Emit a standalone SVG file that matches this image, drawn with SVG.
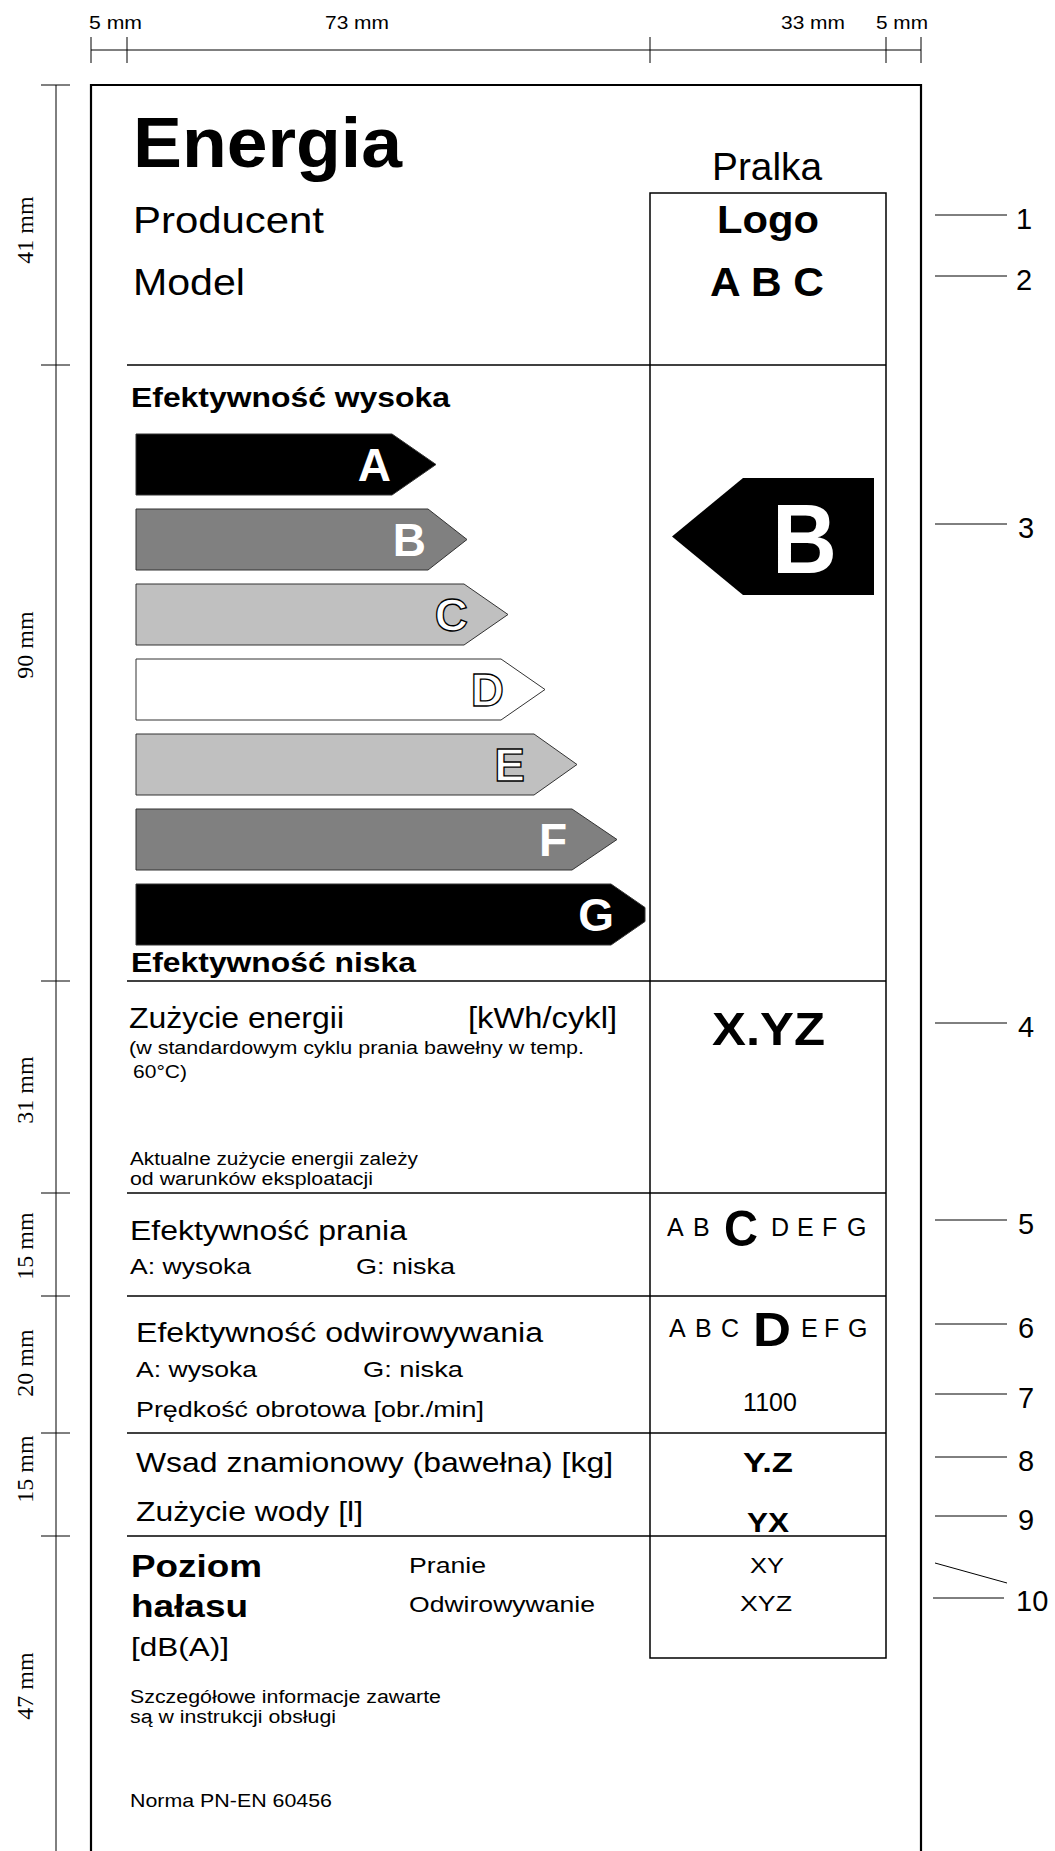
<svg xmlns="http://www.w3.org/2000/svg" width="1055" height="1851" viewBox="0 0 1055 1851">
<style>
text{font-family:"Liberation Sans",Arial,sans-serif;fill:#000}
.b{font-weight:bold}
.dim{font-size:19px}
.vdim{font-family:"Liberation Serif","Times New Roman",serif;font-size:24px}
.num{font-size:29px}
.frame{fill:none;stroke:#000;stroke-width:2.2}
.ln{stroke:#000;stroke-width:1.5;fill:none}
.thin{stroke:#000;stroke-width:1;fill:none}
.arr{stroke:#333;stroke-width:1}
.wl{fill:#fff;font-weight:bold;font-size:46px}
.ol{fill:#fff;stroke:#000;stroke-width:1.3;font-weight:bold;font-size:46px}
.mid{text-anchor:middle}
.end{text-anchor:end}
</style>
<rect x="0" y="0" width="1055" height="1851" fill="#fff"/>

<g id="dimensions">
<line class="thin" x1="91" y1="50" x2="921" y2="50"/>
<line class="thin" x1="91" y1="37" x2="91" y2="63"/>
<line class="thin" x1="127" y1="37" x2="127" y2="63"/>
<line class="thin" x1="650" y1="37" x2="650" y2="63"/>
<line class="thin" x1="886" y1="37" x2="886" y2="63"/>
<line class="thin" x1="921" y1="37" x2="921" y2="63"/>
<text class="dim" x="89" y="29" textLength="53" lengthAdjust="spacingAndGlyphs">5 mm</text>
<text class="dim" x="325" y="29" textLength="64" lengthAdjust="spacingAndGlyphs">73 mm</text>
<text class="dim" x="781" y="29" textLength="64" lengthAdjust="spacingAndGlyphs">33 mm</text>
<text class="dim" x="876" y="29" textLength="52" lengthAdjust="spacingAndGlyphs">5 mm</text>
<line class="thin" x1="56" y1="85" x2="56" y2="1851"/>
<line class="thin" x1="41" y1="85" x2="70" y2="85"/>
<line class="thin" x1="41" y1="365" x2="70" y2="365"/>
<line class="thin" x1="41" y1="981" x2="70" y2="981"/>
<line class="thin" x1="41" y1="1193" x2="70" y2="1193"/>
<line class="thin" x1="41" y1="1296" x2="70" y2="1296"/>
<line class="thin" x1="41" y1="1433" x2="70" y2="1433"/>
<line class="thin" x1="41" y1="1536" x2="70" y2="1536"/>
<text class="vdim mid" transform="translate(33,230) rotate(-90)">41 mm</text>
<text class="vdim mid" transform="translate(33,645) rotate(-90)">90 mm</text>
<text class="vdim mid" transform="translate(33,1090) rotate(-90)">31 mm</text>
<text class="vdim mid" transform="translate(33,1246) rotate(-90)">15 mm</text>
<text class="vdim mid" transform="translate(33,1363) rotate(-90)">20 mm</text>
<text class="vdim mid" transform="translate(33,1469) rotate(-90)">15 mm</text>
<text class="vdim mid" transform="translate(33,1686) rotate(-90)">47 mm</text>
</g>

<g id="label-frame">
<path class="frame" d="M91,1852 V85 H921 V1852"/>
<path class="ln" d="M650,193 H886 V1658 H650 Z"/>
<line class="ln" x1="127" y1="365" x2="886" y2="365"/>
<line class="ln" x1="127" y1="981" x2="886" y2="981"/>
<line class="ln" x1="127" y1="1193" x2="886" y2="1193"/>
<line class="ln" x1="127" y1="1296" x2="886" y2="1296"/>
<line class="ln" x1="127" y1="1433" x2="886" y2="1433"/>
<line class="ln" x1="127" y1="1536" x2="886" y2="1536"/>
</g>

<g id="header">
<text class="b" x="133" y="167" font-size="70" textLength="269" lengthAdjust="spacingAndGlyphs">Energia</text>
<text x="712" y="180" font-size="38" textLength="110" lengthAdjust="spacingAndGlyphs">Pralka</text>
<text x="133" y="233" font-size="37" textLength="191" lengthAdjust="spacingAndGlyphs">Producent</text>
<text x="133" y="295" font-size="37" textLength="112" lengthAdjust="spacingAndGlyphs">Model</text>
<text class="b" x="717" y="233" font-size="39" textLength="102" lengthAdjust="spacingAndGlyphs">Logo</text>
<text class="b" x="710" y="296" font-size="40" textLength="114" lengthAdjust="spacingAndGlyphs">A B C</text>
</g>

<g id="efficiency-scale">
<text class="b" x="131" y="407" font-size="28" textLength="319" lengthAdjust="spacingAndGlyphs">Efektywność wysoka</text>
<polygon class="arr" fill="#000" points="136,434 392,434 436,464.5 392,495 136,495"/>
<polygon class="arr" fill="#808080" points="136,509 428,509 467,539.5 428,570 136,570"/>
<polygon class="arr" fill="#c0c0c0" points="136,584 464,584 508,614.5 464,645 136,645"/>
<polygon class="arr" fill="#fff" points="136,659 501,659 545,689.5 501,720 136,720"/>
<polygon class="arr" fill="#c0c0c0" points="136,734 534,734 577,764.5 534,795 136,795"/>
<polygon class="arr" fill="#808080" points="136,809 572,809 617,839.5 572,870 136,870"/>
<polygon class="arr" fill="#000" points="136,884 611,884 645,907.5 645,921.5 611,945 136,945"/>
<text class="wl end" x="391" y="481">A</text>
<text class="wl end" x="426" y="556">B</text>
<text class="ol end" x="468" y="631">C</text>
<text class="ol end" x="504" y="706">D</text>
<text class="ol end" x="525" y="781">E</text>
<text class="wl end" x="567" y="856">F</text>
<text class="wl end" x="614" y="931">G</text>
<text class="b" x="131" y="972" font-size="28" textLength="285" lengthAdjust="spacingAndGlyphs">Efektywność niska</text>
<polygon fill="#000" points="672,536.5 743,478 874,478 874,595 743,595"/>
<text class="b" x="772" y="573" font-size="98" style="fill:#fff" textLength="65" lengthAdjust="spacingAndGlyphs">B</text>
</g>

<g id="energy-consumption">
<text x="129" y="1028" font-size="30" textLength="215" lengthAdjust="spacingAndGlyphs">Zużycie energii</text>
<text x="468" y="1028" font-size="30" textLength="149" lengthAdjust="spacingAndGlyphs">[kWh/cykl]</text>
<text x="129" y="1054" font-size="18" textLength="455" lengthAdjust="spacingAndGlyphs">(w standardowym cyklu prania bawełny w temp.</text>
<text x="133" y="1078" font-size="18" textLength="54" lengthAdjust="spacingAndGlyphs">60°C)</text>
<text x="130" y="1165" font-size="18" textLength="288" lengthAdjust="spacingAndGlyphs">Aktualne zużycie energii zależy</text>
<text x="130" y="1185" font-size="18" textLength="243" lengthAdjust="spacingAndGlyphs">od warunków eksploatacji</text>
<text class="b" x="712" y="1045" font-size="46" textLength="113" lengthAdjust="spacingAndGlyphs">X.YZ</text>
</g>

<g id="washing-performance">
<text x="130" y="1240" font-size="27" textLength="277" lengthAdjust="spacingAndGlyphs">Efektywność prania</text>
<text x="130" y="1274" font-size="22" textLength="121" lengthAdjust="spacingAndGlyphs">A: wysoka</text>
<text x="356" y="1274" font-size="22" textLength="99" lengthAdjust="spacingAndGlyphs">G: niska</text>
<g font-size="25">
<text x="667" y="1236">A</text>
<text x="693" y="1236">B</text>
<text x="771" y="1236">D</text>
<text x="797" y="1236">E</text>
<text x="822" y="1236">F</text>
<text x="847" y="1236">G</text>
</g>
<text class="b" x="724" y="1246" font-size="50" textLength="34" lengthAdjust="spacingAndGlyphs">C</text>
</g>

<g id="spin-performance">
<text x="136" y="1342" font-size="27" textLength="407" lengthAdjust="spacingAndGlyphs">Efektywność odwirowywania</text>
<text x="136" y="1377" font-size="22" textLength="121" lengthAdjust="spacingAndGlyphs">A: wysoka</text>
<text x="363" y="1377" font-size="22" textLength="100" lengthAdjust="spacingAndGlyphs">G: niska</text>
<text x="136" y="1417" font-size="22" textLength="348" lengthAdjust="spacingAndGlyphs">Prędkość obrotowa [obr./min]</text>
<g font-size="25">
<text x="669" y="1337">A</text>
<text x="695" y="1337">B</text>
<text x="721" y="1337">C</text>
<text x="801" y="1337">E</text>
<text x="824" y="1337">F</text>
<text x="848" y="1337">G</text>
</g>
<text class="b" x="753" y="1346" font-size="49" textLength="38" lengthAdjust="spacingAndGlyphs">D</text>
<text class="mid" x="770" y="1411" font-size="25">1100</text>
</g>

<g id="capacity-water">
<text x="136" y="1472" font-size="28" textLength="477" lengthAdjust="spacingAndGlyphs">Wsad znamionowy (bawełna) [kg]</text>
<text x="136" y="1521" font-size="28" textLength="227" lengthAdjust="spacingAndGlyphs">Zużycie wody [l]</text>
<text class="b" x="743" y="1472" font-size="28" textLength="50" lengthAdjust="spacingAndGlyphs">Y.Z</text>
<text class="b" x="747" y="1532" font-size="28" textLength="42" lengthAdjust="spacingAndGlyphs">YX</text>
</g>

<g id="noise">
<text class="b" x="131" y="1577" font-size="31" textLength="131" lengthAdjust="spacingAndGlyphs">Poziom</text>
<text class="b" x="131" y="1617" font-size="31" textLength="117" lengthAdjust="spacingAndGlyphs">hałasu</text>
<text x="131" y="1656" font-size="26" textLength="98" lengthAdjust="spacingAndGlyphs">[dB(A)]</text>
<text x="409" y="1573" font-size="22" textLength="77" lengthAdjust="spacingAndGlyphs">Pranie</text>
<text x="409" y="1612" font-size="22" textLength="186" lengthAdjust="spacingAndGlyphs">Odwirowywanie</text>
<text x="750" y="1573" font-size="22" textLength="34" lengthAdjust="spacingAndGlyphs">XY</text>
<text x="740" y="1611" font-size="22" textLength="52" lengthAdjust="spacingAndGlyphs">XYZ</text>
</g>

<g id="footer">
<text x="130" y="1703" font-size="18" textLength="311" lengthAdjust="spacingAndGlyphs">Szczegółowe informacje zawarte</text>
<text x="130" y="1723" font-size="18" textLength="206" lengthAdjust="spacingAndGlyphs">są w instrukcji obsługi</text>
<text x="130" y="1807" font-size="18.5" textLength="202" lengthAdjust="spacingAndGlyphs">Norma PN-EN 60456</text>
</g>

<g id="connectors">
<line class="thin" x1="935" y1="215" x2="1007" y2="215"/>
<line class="thin" x1="935" y1="276" x2="1007" y2="276"/>
<line class="thin" x1="935" y1="524" x2="1007" y2="524"/>
<line class="thin" x1="935" y1="1023" x2="1007" y2="1023"/>
<line class="thin" x1="935" y1="1220" x2="1007" y2="1220"/>
<line class="thin" x1="935" y1="1324" x2="1007" y2="1324"/>
<line class="thin" x1="935" y1="1394" x2="1007" y2="1394"/>
<line class="thin" x1="935" y1="1457" x2="1007" y2="1457"/>
<line class="thin" x1="935" y1="1516" x2="1007" y2="1516"/>
<line class="thin" x1="935" y1="1563" x2="1007" y2="1583"/>
<line class="thin" x1="933" y1="1598" x2="1004" y2="1598"/>
</g>

<g id="callout-numbers">
<text class="num" x="1016" y="229">1</text>
<text class="num" x="1016" y="290">2</text>
<text class="num" x="1018" y="538">3</text>
<text class="num" x="1018" y="1037">4</text>
<text class="num" x="1018" y="1234">5</text>
<text class="num" x="1018" y="1338">6</text>
<text class="num" x="1018" y="1408">7</text>
<text class="num" x="1018" y="1471">8</text>
<text class="num" x="1018" y="1530">9</text>
<text class="num" x="1016" y="1611">10</text>
</g>
</svg>
